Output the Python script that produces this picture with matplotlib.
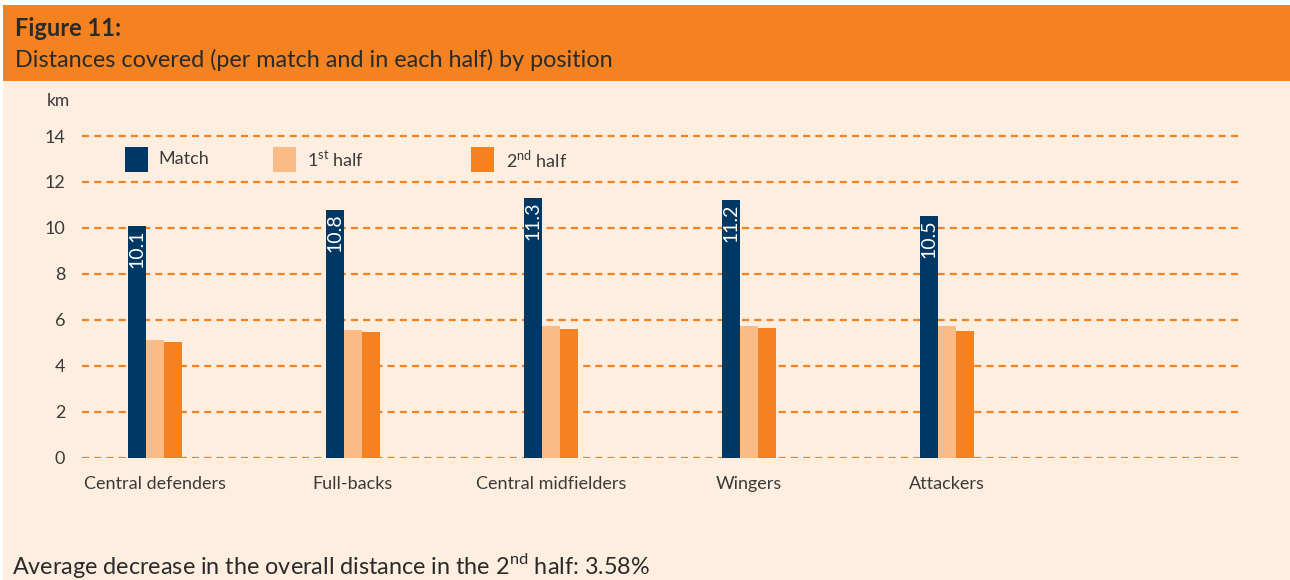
import numpy as np
import matplotlib
matplotlib.use("Agg")
import matplotlib.pyplot as plt
from matplotlib.patches import Rectangle

plt.rcParams["font.family"] = ["Lato", "DejaVu Sans"]
plt.rcParams["mathtext.fontset"] = "custom"
plt.rcParams["mathtext.rm"] = "Lato"

POSITIONS = ["Central defenders", "Full-backs", "Central midfielders", "Wingers", "Attackers"]
MATCH = [10.1, 10.8, 11.3, 11.2, 10.5]
FIRST_HALF = [5.10, 5.54, 5.71, 5.71, 5.71]
SECOND_HALF = [5.02, 5.45, 5.58, 5.63, 5.49]
SERIES = ["Match", "1$^{\\mathrm{st}}$ half", "2$^{\\mathrm{nd}}$ half"]

NAVY = "#003865"
LIGHT = "#FBBB84"
ORANGE = "#F58220"
PEACH = "#FEEEDF"
TEXT = "#3a3a3a"

W, H = 1290, 580
fig = plt.figure(figsize=(W / 100, H / 100), dpi=100, facecolor="white")

# background panels (behind the axes)
fig.patches.append(Rectangle((3 / W, 0), 1, 1 - 5 / H, transform=fig.transFigure,
                             facecolor=PEACH, edgecolor="none", zorder=-3))
fig.patches.append(Rectangle((3 / W, 1 - 81 / H), 1, 76 / H, transform=fig.transFigure,
                             facecolor=ORANGE, edgecolor="none", zorder=-2))

fig.text(15 / W, 1 - 29 / H, "Figure 11:", fontsize=17, fontweight="bold",
         color="#2a2a2a", va="center", ha="left")
fig.text(15 / W, 1 - 60 / H, "Distances covered (per match and in each half) by position",
         fontsize=16.8, color="#2a2a2a", va="center", ha="left")

# axes: 0 at y=457.5px, 22.96 px per km
ymax = 14.5
px_per = 22.96
ax_h = ymax * px_per
ax = fig.add_axes([82 / W, (H - 457.5) / H, 1161 / W, ax_h / H])
ax.set_facecolor("none")

x = np.arange(len(POSITIONS))
bw = 18 / 198
ax.set_xlim(-73 / 198, (1243 - 155) / 198)
ax.set_ylim(0, ymax)

for yv in range(0, 15, 2):
    ax.axhline(yv, color=ORANGE, lw=1.6, ls=(0, (3.2, 2.3)), zorder=1)

ax.bar(x - bw, MATCH, bw, color=NAVY, zorder=2)
ax.bar(x, FIRST_HALF, bw, color=LIGHT, zorder=2)
ax.bar(x + bw, SECOND_HALF, bw, color=ORANGE, zorder=2)

for xi, v in zip(x, MATCH):
    ax.text(xi - bw, v - 0.15, f"{v:.1f}", rotation=90, color="white", fontsize=14,
            ha="center", va="top", zorder=3)

for s in ax.spines.values():
    s.set_visible(False)
ax.set_yticks(range(0, 15, 2))
ax.set_yticklabels([str(t) for t in range(0, 15, 2)], fontsize=13, color=TEXT)
ax.set_xticks(x)
ax.set_xticklabels(POSITIONS, fontsize=13, color=TEXT)
ax.tick_params(length=0, pad=12)
ax.tick_params(axis="x", pad=13)

fig.text(47 / W, 1 - 101 / H, "km", fontsize=12.5, color=TEXT, va="center", ha="left")

# legend
leg_x = [125, 273, 471]
txt_x = [158, 307, 506]
for lx, tx, lab, col in zip(leg_x, txt_x, SERIES, [NAVY, LIGHT, ORANGE]):
    fig.patches.append(Rectangle((lx / W, 1 - 172 / H), 23 / W, 25 / H,
                                 transform=fig.transFigure, facecolor=col,
                                 edgecolor="none", zorder=3))
    fig.text(tx / W, 1 - 159 / H, lab, fontsize=13, color=TEXT, va="center", ha="left")

fig.text(12 / W, 1 - 565 / H,
         "Average decrease in the overall distance in the 2$^{\\mathrm{nd}}$ half: 3.58%",
         fontsize=16.8, color="#2a2a2a", va="center", ha="left")

fig.savefig("out.png", dpi=100, facecolor=fig.get_facecolor())
